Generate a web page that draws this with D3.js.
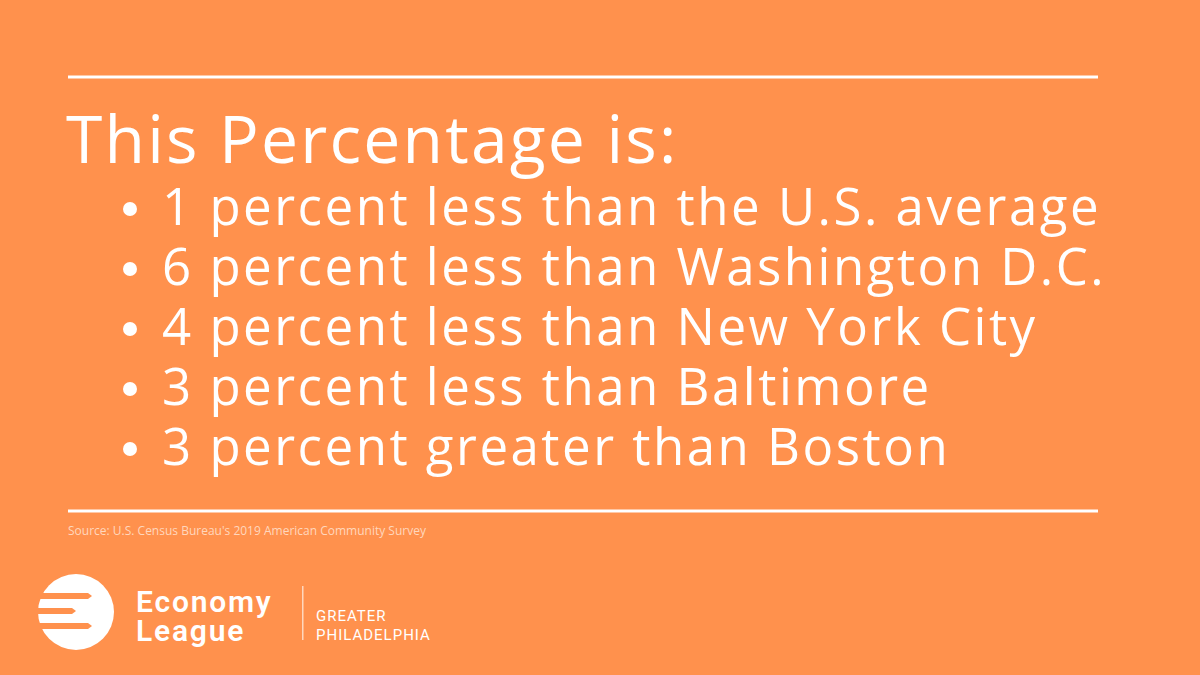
<!DOCTYPE html>
<html lang="en">
  <head>
    <meta charset="utf-8" />
    <title>This Percentage is</title>
    <style>
      body { margin: 0; background: #ff914d; }
      text { font-family: "Open Sans", sans-serif; fill: #fff; }
    </style>
  </head>
  <body>
    <div id="graph-display"></div>
    <script src="https://d3js.org/d3.v7.min.js"></script>
    <script>
      const title = "This Percentage is:";
      const bullets = [
        "1 percent less than the U.S. average",
        "6 percent less than Washington D.C.",
        "4 percent less than New York City",
        "3 percent less than Baltimore",
        "3 percent greater than Boston"
      ];
      const source = "Source: U.S. Census Bureau's 2019 American Community Survey";

      const width = 1200, height = 675;
      const svg = d3.select("#graph-display").append("svg")
        .attr("width", width).attr("height", height);
      svg.append("rect").attr("width", width).attr("height", height).attr("fill", "#ff914d");

      // rules
      [77, 511].forEach(y => {
        svg.append("rect").attr("x", 68).attr("y", y - 1.5).attr("width", 1030).attr("height", 3).attr("fill", "#fff");
      });

      svg.append("text").attr("x", 66).attr("y", 163).style("font-size", "66px")
        .style("letter-spacing", "2.2px").text(title);

      const yScale = d3.scalePoint().domain(d3.range(bullets.length)).range([225, 465]);
      const rows = svg.selectAll("g.row").data(bullets).enter().append("g").attr("class", "row")
        .attr("transform", (d, i) => `translate(0,${yScale(i)})`);
      rows.append("circle").attr("cx", 130).attr("cy", -16).attr("r", 7).attr("fill", "#fff");
      rows.append("text").attr("x", 162).style("font-size", "51px").style("letter-spacing", "2.5px").text(d => d);

      svg.append("text").attr("x", 68).attr("y", 535).style("font-size", "12px")
        .style("fill", "#ffd7bd").text(source);

      // logo
      const logo = svg.append("g");
      logo.append("circle").attr("cx", 76).attr("cy", 612).attr("r", 38).attr("fill", "#fff");
      [596, 611, 626].forEach((y, i) => {
        const tip = i === 1 ? 72 : 88;
        logo.append("path")
          .attr("d", `M30,${y - 3} L${tip},${y - 3} L${tip + 4},${y} L${tip},${y + 3} L30,${y + 3} Z`)
          .attr("fill", "#ff914d");
      });
      logo.append("text").attr("x", 136).attr("y", 612).style("font-size", "30px").style("font-weight", 600)
        .style("letter-spacing", "1.8px").style("font-family", "Roboto").text("Economy");
      logo.append("text").attr("x", 136).attr("y", 641).style("font-size", "30px").style("font-weight", 600)
        .style("letter-spacing", "1.8px").style("font-family", "Roboto").text("League");
      logo.append("rect").attr("x", 302).attr("y", 586).attr("width", 1.5).attr("height", 54).attr("fill", "#ffd7bd");
      logo.append("text").attr("x", 316).attr("y", 621).style("font-size", "15px").style("letter-spacing", "1px")
        .style("font-family", "Roboto").text("GREATER");
      logo.append("text").attr("x", 316).attr("y", 640).style("font-size", "15px").style("letter-spacing", "1px")
        .style("font-family", "Roboto").text("PHILADELPHIA");
    </script>
  </body>
</html>
